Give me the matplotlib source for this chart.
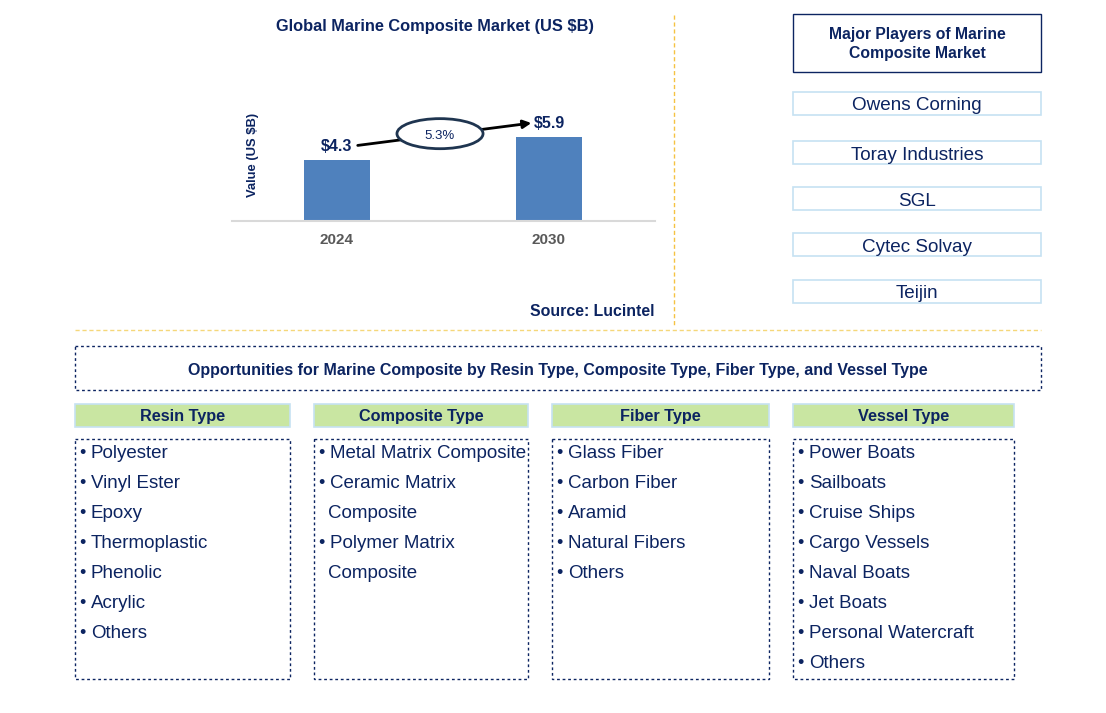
import matplotlib.pyplot as plt
import matplotlib.patches as patches

# Data
years = ['2024', '2030']
values = [4.3, 5.9]
cagr = '5.3%'
players = ['Owens Corning', 'Toray Industries', 'SGL', 'Cytec Solvay', 'Teijin']
segment_titles = ['Resin Type', 'Composite Type', 'Fiber Type', 'Vessel Type']
resin_items = ['Polyester', 'Vinyl Ester', 'Epoxy', 'Thermoplastic', 'Phenolic', 'Acrylic', 'Others']
composite_items = ['Metal Matrix Composite', 'Ceramic Matrix\nComposite', 'Polymer Matrix\nComposite']
fiber_items = ['Glass Fiber', 'Carbon Fiber', 'Aramid', 'Natural Fibers', 'Others']
vessel_items = ['Power Boats', 'Sailboats', 'Cruise Ships', 'Cargo Vessels', 'Naval Boats',
                'Jet Boats', 'Personal Watercraft', 'Others']

navy = '#0c2461'
bar_color = '#4f81bd'
green = '#c9e6a2'
light_blue = '#c6e2f2'

plt.rcParams['font.family'] = ['Liberation Sans', 'DejaVu Sans']

W, H = 1106, 713
fig = plt.figure(figsize=(W / 100, H / 100), dpi=100)

# Canvas in pixel coordinates
ax = fig.add_axes([0, 0, 1, 1])
ax.set_xlim(0, W)
ax.set_ylim(H, 0)
ax.axis('off')

# Separator lines
ax.plot([674, 674], [15, 325], color='#f5c242', lw=1, ls=(0, (3, 2)))
ax.plot([75, 1041], [330, 330], color='#f5d77a', lw=1, ls=(0, (3, 2)))

# Chart title and source
ax.text(435, 27, 'Global Marine Composite Market (US $B)', ha='center', va='center',
        fontsize=11.8, fontweight='bold', color=navy)
ax.text(655, 312, 'Source: Lucintel', ha='right', va='center',
        fontsize=11.4, fontweight='bold', color=navy)

# Major players
ax.add_patch(patches.Rectangle((793, 14), 248, 58, fill=False, edgecolor=navy, lw=1))
ax.text(917, 44, 'Major Players of Marine\nComposite Market', ha='center', va='center',
        fontsize=11.3, fontweight='bold', color=navy, linespacing=1.3)
player_y = [92, 141, 187, 233, 280]
for name, y in zip(players, player_y):
    ax.add_patch(patches.Rectangle((793, y), 248, 23, fill=False, edgecolor=light_blue, lw=1.2))
    ax.text(917, y + 14, name, ha='center', va='center', fontsize=13.6, color=navy)

# Opportunities banner
ax.add_patch(patches.Rectangle((75, 346), 966, 44, fill=False, edgecolor=navy, lw=1,
                               ls=(0, (2, 2))))
ax.text(558, 370, 'Opportunities for Marine Composite by Resin Type, Composite Type, '
        'Fiber Type, and Vessel Type', ha='center', va='center',
        fontsize=11.5, fontweight='bold', color=navy)

# Segment columns
col_x = [(75, 290), (314, 528), (552, 769), (793, 1014)]
all_items = [resin_items, composite_items, fiber_items, vessel_items]
for (x0, x1), title, items in zip(col_x, segment_titles, all_items):
    ax.add_patch(patches.Rectangle((x0, 404), x1 - x0, 23, facecolor=green,
                                   edgecolor=light_blue, lw=1.2))
    ax.text((x0 + x1) / 2, 417, title, ha='center', va='center',
            fontsize=11.7, fontweight='bold', color=navy)
    ax.add_patch(patches.Rectangle((x0, 439), x1 - x0, 240, fill=False, edgecolor=navy,
                                   lw=1, ls=(0, (2, 2))))
    y = 454
    for item in items:
        lines = item.split('\n')
        ax.text(x0 + 4, y, '•', ha='left', va='center', fontsize=13, color=navy)
        for k, line in enumerate(lines):
            ax.text(x0 + 16 if k == 0 else x0 + 14, y, line, ha='left', va='center',
                    fontsize=13.5, color=navy)
            y += 30

# Bar chart
left, right, top, base = 232, 655, 60, 221
bx = fig.add_axes([left / W, 1 - base / H, (right - left) / W, (base - top) / H])
bx.patch.set_alpha(0)
xpos = [0, 1]
bx.bar(xpos, values, width=0.31, color=bar_color)
bx.set_xlim(-0.495, 1.5)
bx.set_ylim(0, 11.3)
for s in ['top', 'right', 'left']:
    bx.spines[s].set_visible(False)
bx.spines['bottom'].set_color('#d9d9d9')
bx.spines['bottom'].set_linewidth(1.5)
bx.set_yticks([])
bx.set_xticks(xpos)
bx.set_xticklabels(years, fontsize=11, fontweight='bold', color='#595959')
bx.tick_params(axis='x', length=0, pad=9)
bx.set_ylabel('Value (US $B)', fontsize=9.4, fontweight='bold', color=navy)
bx.yaxis.set_label_coords(0.064, 0.41)

for x, v in zip(xpos, values):
    bx.text(x, v + 0.92, f'${v}', ha='center', va='center', fontsize=11.5,
            fontweight='bold', color=navy)

bx.annotate('', xy=(0.93, 6.9), xytext=(0.085, 5.28),
            arrowprops=dict(arrowstyle='-|>', color='black', lw=2, mutation_scale=12))
bx.add_patch(patches.Ellipse((0.486, 6.13), 0.406, 2.11, facecolor='white',
                             edgecolor='#1f3550', lw=2, zorder=5))
bx.text(0.486, 6.0, cagr, ha='center', va='center', fontsize=9.5, color=navy, zorder=6)

fig.savefig('out.png', dpi=100)
